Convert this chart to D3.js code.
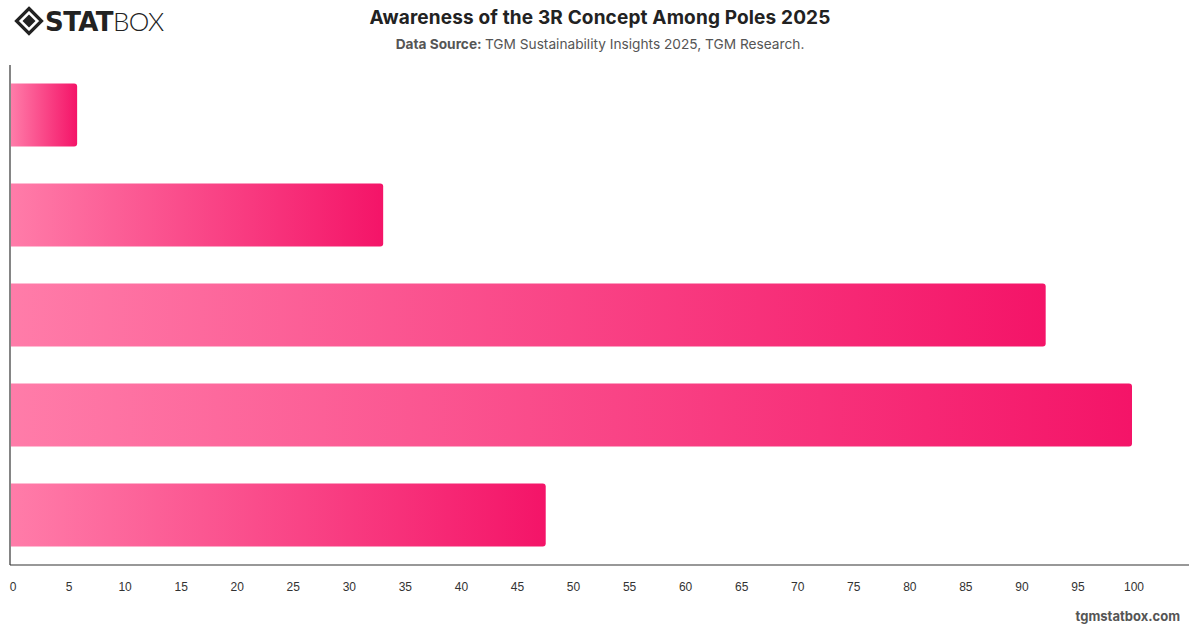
<!DOCTYPE html>
<html>
<head>
<meta charset="utf-8">
<script src="https://cdn.jsdelivr.net/npm/d3@7"></script>
<style>
  body { margin: 0; background: #fff; }
  svg { display: block; font-family: "Helvetica Neue", Inter, "Liberation Sans", Arial, sans-serif; }
</style>
</head>
<body>
<div id="chart"></div>
<script>
// chart data (category names are not shown in it)
var categories = ["Group 1", "Group 2", "Group 3", "Group 4", "Group 5"];
var values = [5.9, 33.2, 92.3, 100, 47.7];
var tickValues = [0, 5, 10, 15, 20, 25, 30, 35, 40, 45, 50, 55, 60, 65, 70, 75, 80, 85, 90, 95, 100];

var width = 1200, height = 628;
var margin = {top: 65, right: 11, bottom: 63, left: 10};

var svg = d3.select("#chart").append("svg")
    .attr("width", width)
    .attr("height", height);

// gradient for the bars
var defs = svg.append("defs");
var grad = defs.append("linearGradient")
    .attr("id", "barGrad")
    .attr("x1", "0%").attr("x2", "100%")
    .attr("y1", "0%").attr("y2", "0%");
grad.append("stop").attr("offset", "0%").attr("stop-color", "#ff7ca9");
grad.append("stop").attr("offset", "100%").attr("stop-color", "#f41468");

var x = d3.scaleLinear()
    .domain([0, 100])
    .range([margin.left + 1, 1132]);

var y = d3.scaleBand()
    .domain(categories)
    .range([margin.top, height - margin.bottom])
    .paddingInner(0.37)
    .paddingOuter(0.185);

//bars, right corners rounded
var r = 3;
svg.selectAll("path.bar")
    .data(values)
    .enter()
    .append("path")
    .attr("class", "bar")
    .attr("fill", "url(#barGrad)")
    .attr("d", function (d, i) {
        var x0 = x(0), x1 = x(d);
        var y0 = y(categories[i]), h = y.bandwidth();
        return "M" + x0 + "," + y0 +
            "H" + (x1 - r) +
            "Q" + x1 + "," + y0 + " " + x1 + "," + (y0 + r) +
            "V" + (y0 + h - r) +
            "Q" + x1 + "," + (y0 + h) + " " + (x1 - r) + "," + (y0 + h) +
            "H" + x0 + "Z";
    });

// axes lines
var axisY = height - margin.bottom;
svg.append("line")
    .attr("x1", margin.left).attr("x2", margin.left)
    .attr("y1", margin.top).attr("y2", axisY)
    .attr("stroke", "#333").attr("stroke-width", 1.2);

var xAxis = d3.axisBottom(x)
    .tickValues(tickValues)
    .tickSize(0)
    .tickPadding(17);

var gx = svg.append("g")
    .attr("transform", "translate(0," + axisY + ")")
    .call(xAxis);
gx.select(".domain").remove();
gx.selectAll("text")
    .attr("fill", "#333")
    .attr("font-size", 12)
    .attr("dx", 1.5)
    .style("font-family", "inherit");

svg.append("line")
    .attr("x1", margin.left).attr("x2", 1189)
    .attr("y1", axisY).attr("y2", axisY)
    .attr("stroke", "#333").attr("stroke-width", 1.2);

// title and source
svg.append("text")
    .attr("x", 600).attr("y", 24)
    .attr("text-anchor", "middle")
    .attr("font-size", 19)
    .attr("font-weight", "bold")
    .attr("fill", "#222")
    .style("letter-spacing", "0.15px")
    .text("Awareness of the 3R Concept Among Poles 2025");

var sub = svg.append("text")
    .attr("x", 600).attr("y", 49)
    .attr("text-anchor", "middle")
    .attr("font-size", 13.7)
    .attr("fill", "#555");
sub.append("tspan").attr("font-weight", "bold").text("Data Source: ");
sub.append("tspan").text("TGM Sustainability Insights 2025, TGM Research.");

svg.append("text")
    .attr("x", 1180).attr("y", 621)
    .attr("text-anchor", "end")
    .attr("font-size", 13)
    .attr("font-weight", "bold")
    .attr("fill", "#555")
    .text("tgmstatbox.com");

// logo
var logo = svg.append("g").attr("transform", "translate(29,21)");
logo.append("path")
    .attr("d", "M0,-12.5 L12.5,0 L0,12.5 L-12.5,0 Z")
    .attr("fill", "none").attr("stroke", "#222").attr("stroke-width", 3.2);
logo.append("path")
    .attr("d", "M0,-6.5 L6.5,0 L0,6.5 L-6.5,0 Z")
    .attr("fill", "#222");
var logoText = svg.append("text")
    .attr("x", 45).attr("y", 31)
    .attr("font-size", 26)
    .attr("fill", "#222")
    .style("letter-spacing", "-0.6px");
logoText.append("tspan").attr("font-weight", 900).attr("font-family", "'DejaVu Sans', sans-serif").text("STAT");
logoText.append("tspan").attr("font-weight", 300).attr("font-family", "Lato, 'Liberation Sans', sans-serif").text("BOX");
</script>
</body>
</html>
